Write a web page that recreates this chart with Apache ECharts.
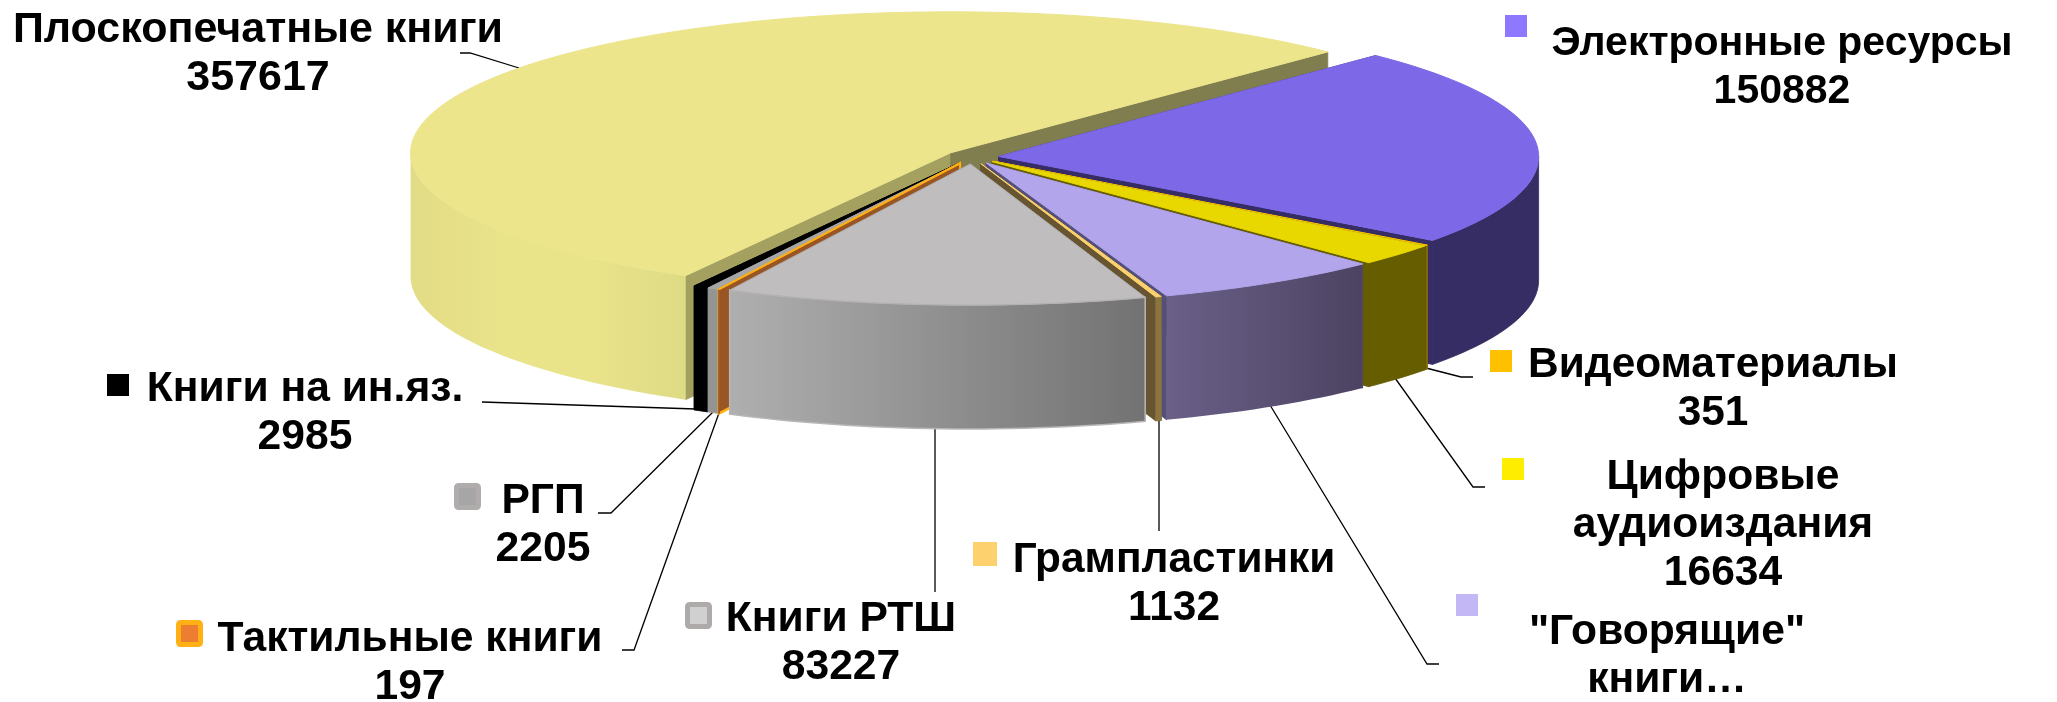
<!DOCTYPE html>
<html lang="ru" style="height: 100%">
<head>
    <meta charset="utf-8">
    <title>Pie3D</title>
    <script src="https://cdn.jsdelivr.net/npm/echarts@6/dist/echarts.min.js"></script>
</head>
<body style="height: 100%; margin: 0; background: #fff">
    <div id="main" style="height: 100%"></div>
    <script type="text/javascript">
        // данные диаграммы (по часовой стрелке)
        const categories = ['Электронные ресурсы', 'Видеоматериалы', 'Цифровые\nаудиоиздания', '"Говорящие"\nкниги…',
            'Грампластинки', 'Книги РТШ', 'Тактильные книги', 'РГП', 'Книги на ин.яз.', 'Плоскопечатные книги'];
        const values = [150882, 351, 16634, 45300, 1132, 83227, 197, 2205, 2985, 357617];
        // подпись "Говорящих" книг обрезана, значение оценено по углу сектора
        const valueHidden = [false, false, false, true, false, false, false, false, false, false];

        // геометрия псевдо-3D пирога
        const pie = { cx: 972, cy: 157, rx: 540, ry: 141, depth: 124, explode: 26.7, start: 44.3 };

        // цвета секторов
        const topColors = ['#7d68e8', '#ffc000', '#e8d800', '#b2a5ec', '#fdd26e', '#bfbdbe', '#f0921e', '#a6a6a6', '#000000', '#ece58c'];
        const topStrokes = ['#7d68e8', '#ffc000', '#e8d800', '#b2a5ec', '#ffd36e', '#b3b0b0', '#ffb015', '#a8a6a6', '#000000', '#ece58c'];
        const wallColors = [
            ['#352d63', '#352d63'], ['#8a7000', '#8a7000'], ['#665c00', '#665c00'], ['#6a6088', '#4c4362'], ['#8a7440', '#8a7440'],
            ['#b0afaf', '#727272'], ['#9a5524', '#9a5524'], ['#949494', '#949494'], ['#000000', '#000000'],
            ['#e3dc86', '#e9e38a', '#e9e38a', '#dedb85']
        ];
        const startFaces = ['#352d63', '#665000', '#665c00', '#55507a', '#665530', '#8a8888', '#9a5524', '#949494', '#000000', '#a3a060'];
        const endFaces = ['#352d63', '#665000', '#665c00', '#55507a', '#665530', '#8a8888', '#9a5524', '#949494', '#000000', '#807d4e'];

        // подписи: центр первой строки и маркер
        const labelX = [1782, 1713, 1723, 1667, 1174, 841, 410, 543, 305, 258];
        const labelY = [44, 365, 477, 632, 560, 619, 639, 501, 389, 30];
        const labelSize = [41, 42.4, 42.6, 42.6, 42.4, 42.6, 42.6, 42.6, 42.6, 43];
        const keyX = [1505, 1490, 1502, 1456, 973, 685, 176, 454, 107, null];
        const keyY = [15, 350, 458, 594, 542, 602, 620, 483, 374, null];
        const keySize = [22, 22, 22, 22, 24, 27, 27, 27, 22, 0];
        const keyFill = ['#8e78ff', '#ffc000', '#ffed00', '#c3b8f5', '#fdd26e', '#d0d0d0', '#ed7d31', '#a6a6a6', '#000000', '#ece58c'];
        const keyStroke = ['#8e78ff', '#ffc000', '#ffed00', '#c3b8f5', '#fdd26e', '#aeaaaa', '#ffb015', '#b0acac', '#000000', '#ece58c'];
        const leaderLines = [
            null,
            [[1426, 368], [1461, 377], [1473, 377]],
            [[1395, 378], [1473, 487], [1485, 487]],
            [[1270, 405], [1427, 664], [1439, 664]],
            [[1159, 418], [1159, 531]],
            [[935, 427], [935, 592]],
            [[719, 413], [634, 650], [622, 650]],
            [[713, 412], [611, 513], [598, 513]],
            [[696, 409], [482, 402]],
            [[519, 68], [470, 53], [460, 53]]
        ];

        const total = values.reduce(function (a, b) { return a + b; }, 0);
        const rad = Math.PI / 180;
        let angle = pie.start;
        const sliceAngles = values.map(function (v) {
            const a = [angle, angle + v / total * 360];
            angle = a[1];
            return a;
        });

        // порядок отрисовки: от дальних секторов к ближним
        const drawOrder = values.map(function (v, i) { return i; }).sort(function (a, b) {
            const ma = (sliceAngles[a][0] + sliceAngles[a][1]) / 2;
            const mb = (sliceAngles[b][0] + sliceAngles[b][1]) / 2;
            return Math.abs(mb - 180) - Math.abs(ma - 180);
        });

        function rimPoint(c, a) {
            return [c[0] + pie.rx * Math.sin(a * rad), c[1] - pie.ry * Math.cos(a * rad)];
        }
        function arcPoints(c, a0, a1) {
            const n = Math.max(2, Math.ceil((a1 - a0) / 1.5));
            const pts = [];
            for (let k = 0; k <= n; k++) pts.push(rimPoint(c, a0 + (a1 - a0) * k / n));
            return pts;
        }
        function down(p) { return [p[0], p[1] + pie.depth]; }

        function renderSlice(params, api) {
            const i = api.value(0);
            const a0 = sliceAngles[i][0], a1 = sliceAngles[i][1], mid = (a0 + a1) / 2;
            const c = [pie.cx + pie.explode * Math.sin(mid * rad), pie.cy - pie.explode * pie.ry / pie.rx * Math.cos(mid * rad)];
            const rank = drawOrder.indexOf(i) * 10;
            const children = [];
            function face(pts, fill, stroke, lw, z) {
                children.push({ type: 'polygon', z2: rank + z, shape: { points: pts }, style: { fill: fill, stroke: stroke, lineWidth: lw } });
            }
            const pStart = rimPoint(c, a0), pEnd = rimPoint(c, a1);
            // тактильные книги обведены оранжевым
            const isTactile = i === 6;
            face([c, pStart, down(pStart), down(c)], startFaces[i], isTactile ? topStrokes[i] : startFaces[i], isTactile ? 2 : 0.8, 1);
            face([c, pEnd, down(pEnd), down(c)], endFaces[i], isTactile ? topStrokes[i] : endFaces[i], isTactile ? 2 : 0.8, 2);
            // внешняя стенка видна только на передней половине
            const w0 = Math.max(a0, 90), w1 = Math.min(a1, 270);
            if (w1 > w0) {
                const arc = arcPoints(c, w0, w1);
                const stops = wallColors[i].map(function (col, k, all) { return { offset: k / (all.length - 1), color: col }; });
                const solid = wallColors[i][0] === wallColors[i][1];
                face(arc.concat(arc.map(down).reverse()),
                    new echarts.graphic.LinearGradient(0, 0, 1, 0, stops),
                    i === 5 ? '#b8b6b6' : (solid ? wallColors[i][0] : null), i === 5 ? 1.5 : (solid ? 0.8 : 0), 3);
            }
            face([c].concat(arcPoints(c, a0, a1)), topColors[i], topStrokes[i], 1, 4);
            return { type: 'group', children: children };
        }

        function renderLabel(params, api) {
            const i = api.value(0);
            const children = [];
            if (leaderLines[i]) {
                children.push({ type: 'polyline', shape: { points: leaderLines[i] }, style: { stroke: '#000', lineWidth: 1.3, fill: null } });
            }
            if (keyX[i] !== null) {
                const soft = keySize[i] > 22 && keyFill[i] !== keyStroke[i];
                children.push({
                    type: 'rect',
                    shape: { x: keyX[i] + (soft ? 2.5 : 0), y: keyY[i] + (soft ? 2.5 : 0), width: keySize[i] - (soft ? 5 : 0), height: keySize[i] - (soft ? 5 : 0), r: soft ? 2 : 0 },
                    style: { fill: keyFill[i], stroke: soft ? keyStroke[i] : null, lineWidth: soft ? 5 : 0 }
                });
            }
            const txt = categories[i] + (valueHidden[i] ? '' : '\n' + values[i]);
            children.push({
                type: 'text',
                style: {
                    text: txt, x: labelX[i], y: labelY[i] - 24, fill: '#000', textAlign: 'center', textVerticalAlign: 'top',
                    font: 'bold ' + labelSize[i] + 'px "Liberation Sans", Arial, sans-serif', lineHeight: 48
                }
            });
            return { type: 'group', children: children };
        }

        const myChart = echarts.init(document.getElementById('main'));
        const option = {
            animation: false,
            backgroundColor: '#ffffff',
            series: [
                {
                    type: 'custom', coordinateSystem: 'none', renderItem: renderSlice, silent: true, z: 2,
                    data: drawOrder.map(function (i) { return [i, values[i]]; })
                },
                {
                    type: 'custom', coordinateSystem: 'none', renderItem: renderLabel, silent: true, z: 1,
                    data: categories.map(function (n, i) { return [i, values[i]]; })
                }
            ]
        };
        myChart.setOption(option);
        window.onresize = function () { myChart.resize(); };
    </script>
</body>
</html>
